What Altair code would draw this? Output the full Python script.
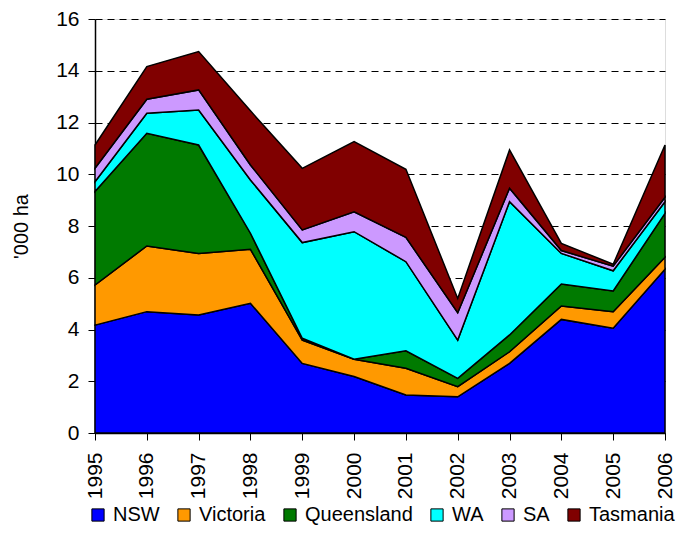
import altair as alt
import pandas as pd

years = [1995, 1996, 1997, 1998, 1999, 2000, 2001, 2002, 2003, 2004, 2005, 2006]
states = ["NSW", "Victoria", "Queensland", "WA", "SA", "Tasmania"]
colors = ["#0000FF", "#FF9900", "#007A00", "#00FFFF", "#CC99FF", "#800000"]

nsw = [4.17, 4.69, 4.56, 5.01, 2.69, 2.18, 1.47, 1.40, 2.69, 4.39, 4.05, 6.33]
victoria = [1.55, 2.54, 2.38, 2.09, 0.90, 0.67, 1.03, 0.39, 0.45, 0.52, 0.64, 0.46]
queensland = [3.61, 4.35, 4.19, 0.62, 0.07, 0.0, 0.68, 0.32, 0.65, 0.85, 0.80, 1.70]
wa = [0.38, 0.78, 1.35, 2.06, 3.70, 4.93, 3.44, 1.48, 5.15, 1.18, 0.78, 0.45]
sa = [0.52, 0.54, 0.78, 0.58, 0.49, 0.77, 0.94, 1.06, 0.52, 0.11, 0.18, 0.17]
tasmania = [0.90, 1.26, 1.48, 2.09, 2.38, 2.71, 2.63, 0.55, 1.48, 0.28, 0.07, 2.02]

series = [nsw, victoria, queensland, wa, sa, tasmania]
rows = []
for i, (s, vals) in enumerate(zip(states, series)):
    for y, v in zip(years, vals):
        rows.append({"year": y, "state": s, "value": v, "order": i})
df = pd.DataFrame(rows)

FONT = "Liberation Sans"

chart = alt.Chart(df).mark_area(stroke="black", strokeWidth=1.5, opacity=1).encode(
    x=alt.X("year:Q",
            scale=alt.Scale(domain=[1995, 2006], nice=False, zero=False),
            axis=alt.Axis(values=years, format="d", labelAngle=270, labelAlign="right",
                          labelBaseline="middle", labelFontSize=21, labelColor="black",
                          labelPadding=12, grid=False, domainColor="black", domainWidth=1.5,
                          tickColor="black", tickSize=7, labelFlush=False, labelOverlap=False,
                          title=None)),
    y=alt.Y("value:Q", stack="zero",
            scale=alt.Scale(domain=[0, 16], nice=False),
            axis=alt.Axis(values=[0, 2, 4, 6, 8, 10, 12, 14, 16], labelFontSize=21,
                          labelColor="black", labelPadding=9, labelFlush=False,
                          grid=True, gridColor="black", gridDash=[7, 5], gridWidth=1,
                          domainColor="black", domainWidth=1.5, tickColor="black", tickSize=7,
                          title="'000 ha", titleFontSize=20, titleFontWeight="normal",
                          titleColor="black", titlePadding=24)),
    color=alt.Color("state:N", sort=states,
                    scale=alt.Scale(domain=states, range=colors),
                    legend=alt.Legend(title=None, orient="none", direction="horizontal",
                                      legendX=-7, legendY=486,
                                      symbolType="square", symbolSize=150,
                                      symbolStrokeColor="black", symbolStrokeWidth=1,
                                      labelFontSize=20, labelColor="black", labelOffset=5,
                                      columnPadding=14, symbolOffset=0, padding=0)),
    order=alt.Order("order:Q", sort="ascending"),
).properties(
    width=570, height=414,
    autosize=alt.AutoSizeParams(type="none"),
    padding={"left": 87, "top": 11, "right": 13, "bottom": 96},
).configure_view(
    stroke="#888888", strokeWidth=1.5
).configure(font=FONT)

chart.save("out.html", embed_options={"renderer": "svg", "actions": False})
